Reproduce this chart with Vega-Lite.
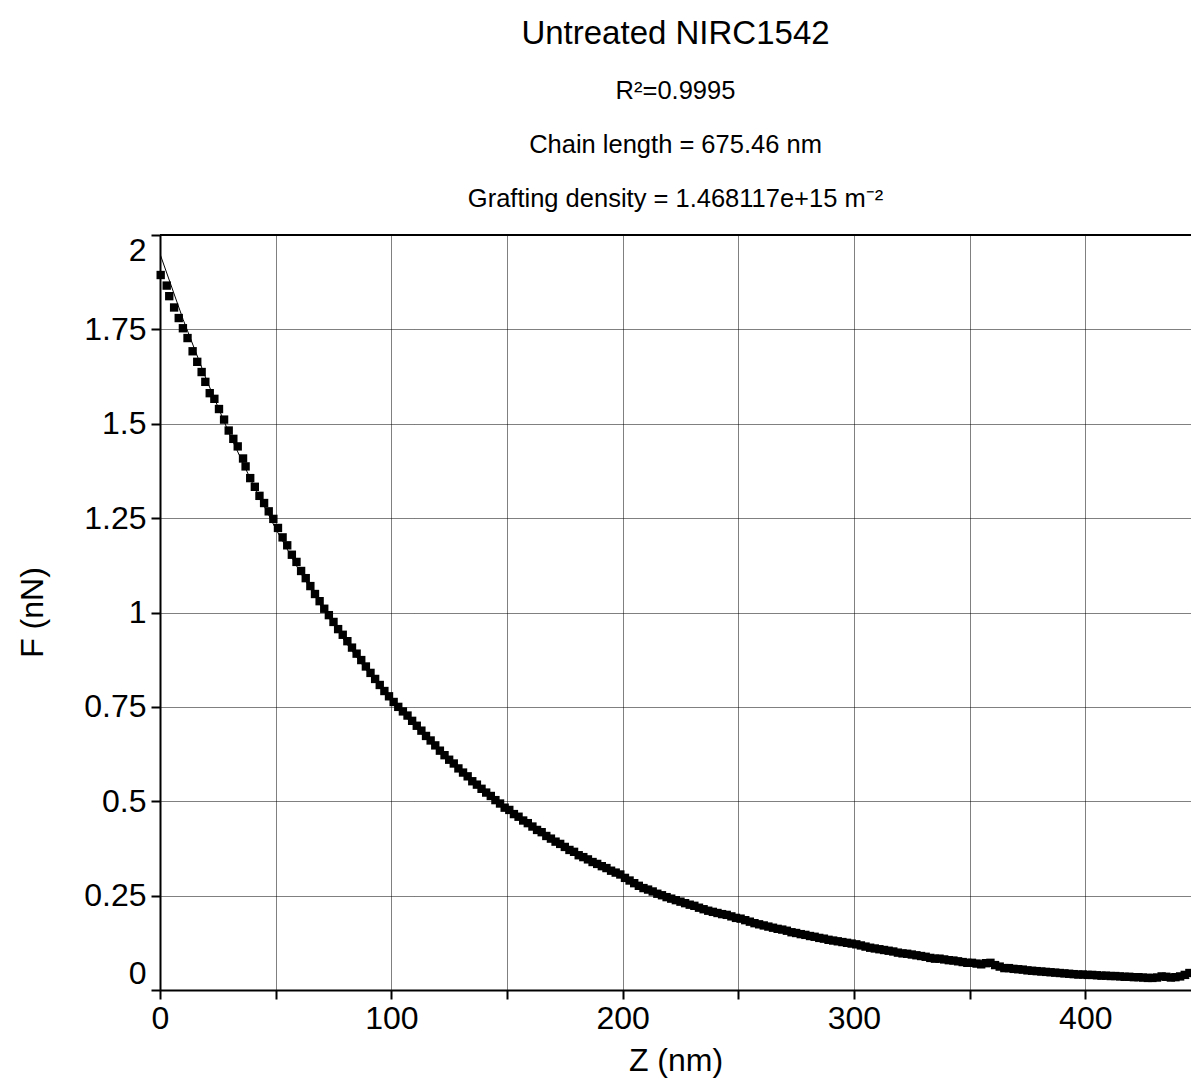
{
  "$schema": "https://vega.github.io/schema/vega-lite/v6.json",
  "autosize": {"type": "none"},
  "width": 1031,
  "height": 755,
  "padding": {"left": 160, "top": 235, "right": 0, "bottom": 92},
  "background": "white",
  "title": {
    "text": "Untreated NIRC1542",
    "subtitle": ["R²=0.9995", "Chain length = 675.46 nm", "Grafting density = 1.468117e+15 m⁻²"],
    "anchor": "middle",
    "font": "Liberation Sans",
    "fontSize": 33,
    "fontWeight": "normal",
    "color": "black",
    "subtitleFont": "Liberation Sans",
    "subtitleFontSize": 25.5,
    "subtitleColor": "black",
    "subtitleLineHeight": 54,
    "subtitlePadding": 28,
    "offset": 22
  },
  "config": {
    "view": {"stroke": null},
    "axis": {
      "labelFont": "Liberation Sans",
      "titleFont": "Liberation Sans",
      "labelColor": "black",
      "titleColor": "black",
      "labelFontSize": 32,
      "titleFontSize": 32,
      "titleFontWeight": "normal",
      "domainColor": "black",
      "domainWidth": 2,
      "tickColor": "black",
      "tickWidth": 2,
      "tickSize": 9,
      "gridColor": "#000",
      "gridDash": [1, 1],
      "gridWidth": 1,
      "gridOpacity": 1
    }
  },
  "datasets": {
    "points": [
      {"z": 0.3, "f": 1.894}, {"z": 2.9, "f": 1.866}, {"z": 4.0, "f": 1.838}, {"z": 6.1, "f": 1.808},
      {"z": 8.1, "f": 1.780}, {"z": 9.9, "f": 1.753}, {"z": 11.9, "f": 1.727}, {"z": 14.1, "f": 1.692},
      {"z": 16.1, "f": 1.664}, {"z": 18.0, "f": 1.637}, {"z": 19.6, "f": 1.611}, {"z": 21.5, "f": 1.581},
      {"z": 23.5, "f": 1.566}, {"z": 25.5, "f": 1.539}, {"z": 27.7, "f": 1.511}, {"z": 29.7, "f": 1.482},
      {"z": 31.7, "f": 1.460}, {"z": 33.6, "f": 1.440}, {"z": 35.9, "f": 1.408}, {"z": 37.0, "f": 1.387},
      {"z": 39, "f": 1.356}, {"z": 41, "f": 1.333}, {"z": 43, "f": 1.309}, {"z": 45, "f": 1.290},
      {"z": 47, "f": 1.268}, {"z": 49, "f": 1.248}, {"z": 51, "f": 1.224}, {"z": 53, "f": 1.199},
      {"z": 55, "f": 1.178}, {"z": 57, "f": 1.153}, {"z": 59, "f": 1.134}, {"z": 61, "f": 1.110},
      {"z": 63, "f": 1.091}, {"z": 65, "f": 1.070}, {"z": 67, "f": 1.049}, {"z": 69, "f": 1.030},
      {"z": 71, "f": 1.010}, {"z": 73, "f": 0.993}, {"z": 75, "f": 0.975}, {"z": 77, "f": 0.956},
      {"z": 79, "f": 0.941}, {"z": 81, "f": 0.924}, {"z": 83, "f": 0.907}, {"z": 85, "f": 0.891},
      {"z": 87, "f": 0.874}, {"z": 89, "f": 0.857}, {"z": 91, "f": 0.840}, {"z": 93, "f": 0.824},
      {"z": 95, "f": 0.808}, {"z": 97, "f": 0.792}, {"z": 99, "f": 0.778}, {"z": 101, "f": 0.763},
      {"z": 103, "f": 0.750}, {"z": 105, "f": 0.738}, {"z": 107, "f": 0.727}, {"z": 109, "f": 0.713},
      {"z": 111, "f": 0.700}, {"z": 113, "f": 0.687}, {"z": 115, "f": 0.673}, {"z": 117, "f": 0.661},
      {"z": 119, "f": 0.648}, {"z": 121, "f": 0.634}, {"z": 123, "f": 0.622}, {"z": 125, "f": 0.610},
      {"z": 127, "f": 0.600}, {"z": 129, "f": 0.587}, {"z": 131, "f": 0.576}, {"z": 133, "f": 0.566},
      {"z": 135, "f": 0.553}, {"z": 137, "f": 0.544}, {"z": 139, "f": 0.533}, {"z": 141, "f": 0.523},
      {"z": 143, "f": 0.514}, {"z": 145, "f": 0.503}, {"z": 147, "f": 0.494}, {"z": 149, "f": 0.483},
      {"z": 151, "f": 0.477}, {"z": 153, "f": 0.466}, {"z": 155, "f": 0.459}, {"z": 157, "f": 0.449},
      {"z": 159, "f": 0.442}, {"z": 161, "f": 0.433}, {"z": 163, "f": 0.424}, {"z": 165, "f": 0.418},
      {"z": 167, "f": 0.408}, {"z": 169, "f": 0.401}, {"z": 171, "f": 0.393}, {"z": 173, "f": 0.387},
      {"z": 175, "f": 0.379}, {"z": 177, "f": 0.371}, {"z": 179, "f": 0.366}, {"z": 181, "f": 0.357},
      {"z": 183, "f": 0.352}, {"z": 185, "f": 0.346}, {"z": 187, "f": 0.339}, {"z": 189, "f": 0.334},
      {"z": 191, "f": 0.328}, {"z": 193, "f": 0.323}, {"z": 195, "f": 0.316}, {"z": 197, "f": 0.311},
      {"z": 199, "f": 0.306}, {"z": 201, "f": 0.297}, {"z": 203, "f": 0.290}, {"z": 205, "f": 0.283},
      {"z": 207, "f": 0.276}, {"z": 209, "f": 0.270}, {"z": 211, "f": 0.266}, {"z": 213, "f": 0.261},
      {"z": 215, "f": 0.255}, {"z": 217, "f": 0.251}, {"z": 219, "f": 0.246}, {"z": 221, "f": 0.242},
      {"z": 223, "f": 0.238}, {"z": 225, "f": 0.234}, {"z": 227, "f": 0.230}, {"z": 229, "f": 0.226},
      {"z": 231, "f": 0.223}, {"z": 233, "f": 0.218}, {"z": 235, "f": 0.214}, {"z": 237, "f": 0.210},
      {"z": 239, "f": 0.207}, {"z": 241, "f": 0.204}, {"z": 243, "f": 0.201}, {"z": 245, "f": 0.199},
      {"z": 247, "f": 0.195}, {"z": 249, "f": 0.191}, {"z": 251, "f": 0.189}, {"z": 253, "f": 0.185},
      {"z": 255, "f": 0.181}, {"z": 257, "f": 0.177}, {"z": 259, "f": 0.174}, {"z": 261, "f": 0.171},
      {"z": 263, "f": 0.168}, {"z": 265, "f": 0.165}, {"z": 267, "f": 0.162}, {"z": 269, "f": 0.160},
      {"z": 271, "f": 0.157}, {"z": 273, "f": 0.153}, {"z": 275, "f": 0.151}, {"z": 277, "f": 0.148},
      {"z": 279, "f": 0.146}, {"z": 281, "f": 0.143}, {"z": 283, "f": 0.141}, {"z": 285, "f": 0.138},
      {"z": 287, "f": 0.136}, {"z": 289, "f": 0.133}, {"z": 291, "f": 0.131}, {"z": 293, "f": 0.129},
      {"z": 295, "f": 0.127}, {"z": 297, "f": 0.125}, {"z": 299, "f": 0.123}, {"z": 301, "f": 0.121},
      {"z": 303, "f": 0.118}, {"z": 305, "f": 0.115}, {"z": 307, "f": 0.112}, {"z": 309, "f": 0.110},
      {"z": 311, "f": 0.108}, {"z": 313, "f": 0.106}, {"z": 315, "f": 0.104}, {"z": 317, "f": 0.102},
      {"z": 319, "f": 0.099}, {"z": 321, "f": 0.097}, {"z": 323, "f": 0.096}, {"z": 325, "f": 0.094},
      {"z": 327, "f": 0.092}, {"z": 329, "f": 0.090}, {"z": 331, "f": 0.088}, {"z": 333, "f": 0.085},
      {"z": 335, "f": 0.083}, {"z": 337, "f": 0.083}, {"z": 339, "f": 0.081}, {"z": 341, "f": 0.079},
      {"z": 343, "f": 0.078}, {"z": 345, "f": 0.076}, {"z": 347, "f": 0.074}, {"z": 349, "f": 0.072},
      {"z": 351, "f": 0.072}, {"z": 353, "f": 0.070}, {"z": 355, "f": 0.068}, {"z": 357, "f": 0.071},
      {"z": 359, "f": 0.072}, {"z": 361, "f": 0.066}, {"z": 363, "f": 0.062}, {"z": 365, "f": 0.058},
      {"z": 367, "f": 0.058}, {"z": 369, "f": 0.056}, {"z": 371, "f": 0.055}, {"z": 373, "f": 0.054},
      {"z": 375, "f": 0.052}, {"z": 377, "f": 0.051}, {"z": 379, "f": 0.050}, {"z": 381, "f": 0.049},
      {"z": 383, "f": 0.048}, {"z": 385, "f": 0.047}, {"z": 387, "f": 0.046}, {"z": 389, "f": 0.045},
      {"z": 391, "f": 0.044}, {"z": 393, "f": 0.043}, {"z": 395, "f": 0.042}, {"z": 397, "f": 0.041},
      {"z": 399, "f": 0.041}, {"z": 401, "f": 0.040}, {"z": 403, "f": 0.040}, {"z": 405, "f": 0.039},
      {"z": 407, "f": 0.038}, {"z": 409, "f": 0.038}, {"z": 411, "f": 0.037}, {"z": 413, "f": 0.037},
      {"z": 415, "f": 0.036}, {"z": 417, "f": 0.035}, {"z": 419, "f": 0.035}, {"z": 421, "f": 0.034},
      {"z": 423, "f": 0.034}, {"z": 425, "f": 0.033}, {"z": 427, "f": 0.032}, {"z": 429, "f": 0.032},
      {"z": 431, "f": 0.033}, {"z": 433, "f": 0.036}, {"z": 435, "f": 0.035}, {"z": 437, "f": 0.033},
      {"z": 439, "f": 0.034}, {"z": 441, "f": 0.036}, {"z": 443, "f": 0.040}, {"z": 445, "f": 0.045}
    ],
    "fit": [
      {"z": 0, "f": 1.950}, {"z": 10, "f": 1.776}, {"z": 20, "f": 1.618}, {"z": 30, "f": 1.473},
      {"z": 40, "f": 1.342}, {"z": 50, "f": 1.222}, {"z": 60, "f": 1.113}, {"z": 70, "f": 1.014},
      {"z": 80, "f": 0.923}, {"z": 90, "f": 0.841}, {"z": 100, "f": 0.766}, {"z": 110, "f": 0.698},
      {"z": 120, "f": 0.635}, {"z": 130, "f": 0.579}, {"z": 140, "f": 0.527}, {"z": 150, "f": 0.480},
      {"z": 160, "f": 0.437}, {"z": 170, "f": 0.398}, {"z": 180, "f": 0.363}, {"z": 190, "f": 0.330},
      {"z": 200, "f": 0.301}, {"z": 210, "f": 0.274}, {"z": 220, "f": 0.250}, {"z": 230, "f": 0.227},
      {"z": 240, "f": 0.207}, {"z": 250, "f": 0.189}, {"z": 260, "f": 0.172}, {"z": 270, "f": 0.156},
      {"z": 280, "f": 0.142}, {"z": 290, "f": 0.130}, {"z": 300, "f": 0.118}, {"z": 310, "f": 0.108},
      {"z": 320, "f": 0.098}, {"z": 330, "f": 0.089}, {"z": 340, "f": 0.081}, {"z": 350, "f": 0.074},
      {"z": 360, "f": 0.067}, {"z": 370, "f": 0.061}, {"z": 380, "f": 0.056}, {"z": 390, "f": 0.051},
      {"z": 400, "f": 0.046}, {"z": 410, "f": 0.042}, {"z": 420, "f": 0.039}, {"z": 430, "f": 0.035},
      {"z": 440, "f": 0.032}, {"z": 445, "f": 0.031}
    ]
  },
  "layer": [
    {
      "data": {"name": "fit"},
      "mark": {"type": "line", "color": "black", "strokeWidth": 1, "clip": true},
      "encoding": {
        "x": {
          "field": "z", "type": "quantitative",
          "scale": {"domain": [0, 445.7], "nice": false, "zero": false},
          "axis": {
            "title": "Z (nm)",
            "values": [0, 50, 100, 150, 200, 250, 300, 350, 400],
            "labelExpr": "datum.value % 100 === 0 ? datum.label : ''",
            "labelPadding": 4,
            "labelFlush": false,
            "labelOverlap": false,
            "grid": true,
            "titleY": 70,
            "titleBaseline": "middle"
          }
        },
        "y": {
          "field": "f", "type": "quantitative",
          "scale": {"domain": [0, 2], "nice": false},
          "axis": {
            "title": "F (nN)",
            "values": [0, 0.25, 0.5, 0.75, 1, 1.25, 1.5, 1.75, 2],
            "labelExpr": "'' + datum.value",
            "labelPadding": 5,
            "labelFlush": true,
            "labelOverlap": false,
            "grid": true,
            "titleX": -128,
            "titleY": 377,
            "titleAngle": -90,
            "titleAlign": "center",
            "titleBaseline": "middle"
          }
        }
      }
    },
    {
      "data": {"name": "points"},
      "mark": {"type": "point", "shape": "square", "filled": true, "size": 70, "color": "black", "opacity": 1},
      "encoding": {
        "x": {"field": "z", "type": "quantitative"},
        "y": {"field": "f", "type": "quantitative"}
      }
    },
    {
      "data": {"values": [{}]},
      "mark": {"type": "rule", "color": "black", "strokeWidth": 2},
      "encoding": {"y": {"datum": 2}}
    }
  ]
}
